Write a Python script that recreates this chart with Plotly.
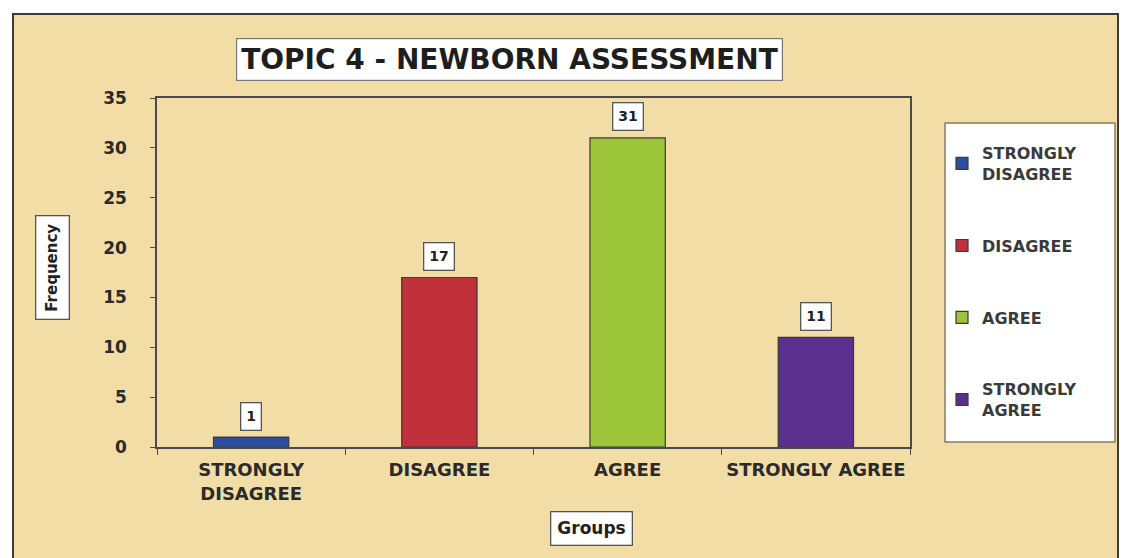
import plotly.graph_objects as go

categories = ["STRONGLY<br>DISAGREE", "DISAGREE", "AGREE", "STRONGLY AGREE"]
legend_names = ["STRONGLY<br>DISAGREE", "DISAGREE", "AGREE", "STRONGLY<br>AGREE"]
values = [1, 17, 31, 11]
colors = ["#2c4ea3", "#c1313c", "#9dc53a", "#5b2f8e"]
y_ticks = [0, 5, 10, 15, 20, 25, 30, 35]

# pixel helpers for plot-area geometry (plot area: x 157..910, y 98..447)
L, R, T, B = 157, 910, 98, 447
W, H = R - L, B - T
def px(x):
    return (x - L) / W
def py(y):
    return (B - y) / H

FONT = "DejaVu Sans"

fig = go.Figure()
for i, (c, v) in enumerate(zip(categories, values)):
    fig.add_trace(go.Bar(
        x=[c], y=[v], name=legend_names[i], legendgroup=f"g{i}",
        marker=dict(color=colors[i], line=dict(color="#3a3a3a", width=1.2)),
        width=0.4, hoverinfo="x+y",
    ))

for c, v in zip(categories, values):
    fig.add_annotation(
        x=c, y=v, text=f"<b>{v}</b>", showarrow=False, yshift=21,
        xanchor="center", yanchor="middle",
        font=dict(family=FONT, size=14, color="#222"),
        bgcolor="white", bordercolor="#555", borderwidth=1.3, borderpad=5,
    )

shapes = [
    # parchment frame
    dict(type="rect", xref="paper", yref="paper", x0=px(13), x1=px(1118), y0=py(575), y1=py(14),
         fillcolor="#f2dda7", line=dict(color="#3b3b3b", width=2), layer="below"),
    # legend box
    dict(type="rect", xref="paper", yref="paper", x0=px(945), x1=px(1115), y0=py(442), y1=py(123),
         fillcolor="white", line=dict(color="#8a7a60", width=1.5), layer="below"),
]

fig.add_annotation(xref="paper", yref="paper", x=px(509), y=py(59), text="<b>TOPIC 4 - NEWBORN ASSESSMENT</b>",
                   xanchor="center", yanchor="middle", showarrow=False,
                   font=dict(family=FONT, size=28, color="#1e1e1e"),
                   bgcolor="white", bordercolor="#777", borderwidth=1.2, borderpad=4)
fig.add_annotation(xref="paper", yref="paper", x=px(52), y=py(268), text="<b>Frequency</b>", textangle=-90,
                   xanchor="center", yanchor="middle", showarrow=False,
                   font=dict(family=FONT, size=15, color="#222"),
                   bgcolor="white", bordercolor="#555", borderwidth=1.3, borderpad=7)
fig.add_annotation(xref="paper", yref="paper", x=px(591), y=py(528), text="<b>Groups</b>",
                   xanchor="center", yanchor="middle", showarrow=False,
                   font=dict(family=FONT, size=17, color="#222"),
                   bgcolor="white", bordercolor="#555", borderwidth=1.3, borderpad=6)

fig.update_layout(
    width=1122, height=558,
    margin=dict(l=L, r=1122 - R, t=T, b=558 - B, autoexpand=False),
    paper_bgcolor="white", plot_bgcolor="white",
    barmode="overlay", showlegend=True, shapes=shapes,
    font=dict(family=FONT, color="#222"),
    legend=dict(x=px(942), y=py(136), xanchor="left", yanchor="top",
                bgcolor="rgba(0,0,0,0)", borderwidth=0, tracegroupgap=48,
                font=dict(family=FONT, size=16, color="#3a3a3a", weight="bold"),
                itemwidth=30),
    xaxis=dict(type="category", categoryorder="array", categoryarray=categories,
               showline=True, linecolor="#4a4a4a", linewidth=1.5, mirror=True,
               ticks="outside", tickson="boundaries", ticklen=6, tickcolor="#4a4a4a",
               ticklabelstandoff=6, tickangle=0, automargin=False,
               tickfont=dict(family=FONT, size=18, color="#2a2a2a", weight="bold"),
               showgrid=False),
    yaxis=dict(range=[0, 35], tickvals=y_ticks, showline=True, linecolor="#4a4a4a", linewidth=1.5,
               mirror=True, ticks="outside", ticklen=5, tickcolor="#4a4a4a", ticklabelstandoff=20,
               automargin=False,
               tickfont=dict(family=FONT, size=17, color="#2a2a2a", weight="bold"),
               showgrid=False, zeroline=False),
)

fig.write_html("out.html", config={"displayModeBar": False},
               post_script="document.body.style.margin='0';")
